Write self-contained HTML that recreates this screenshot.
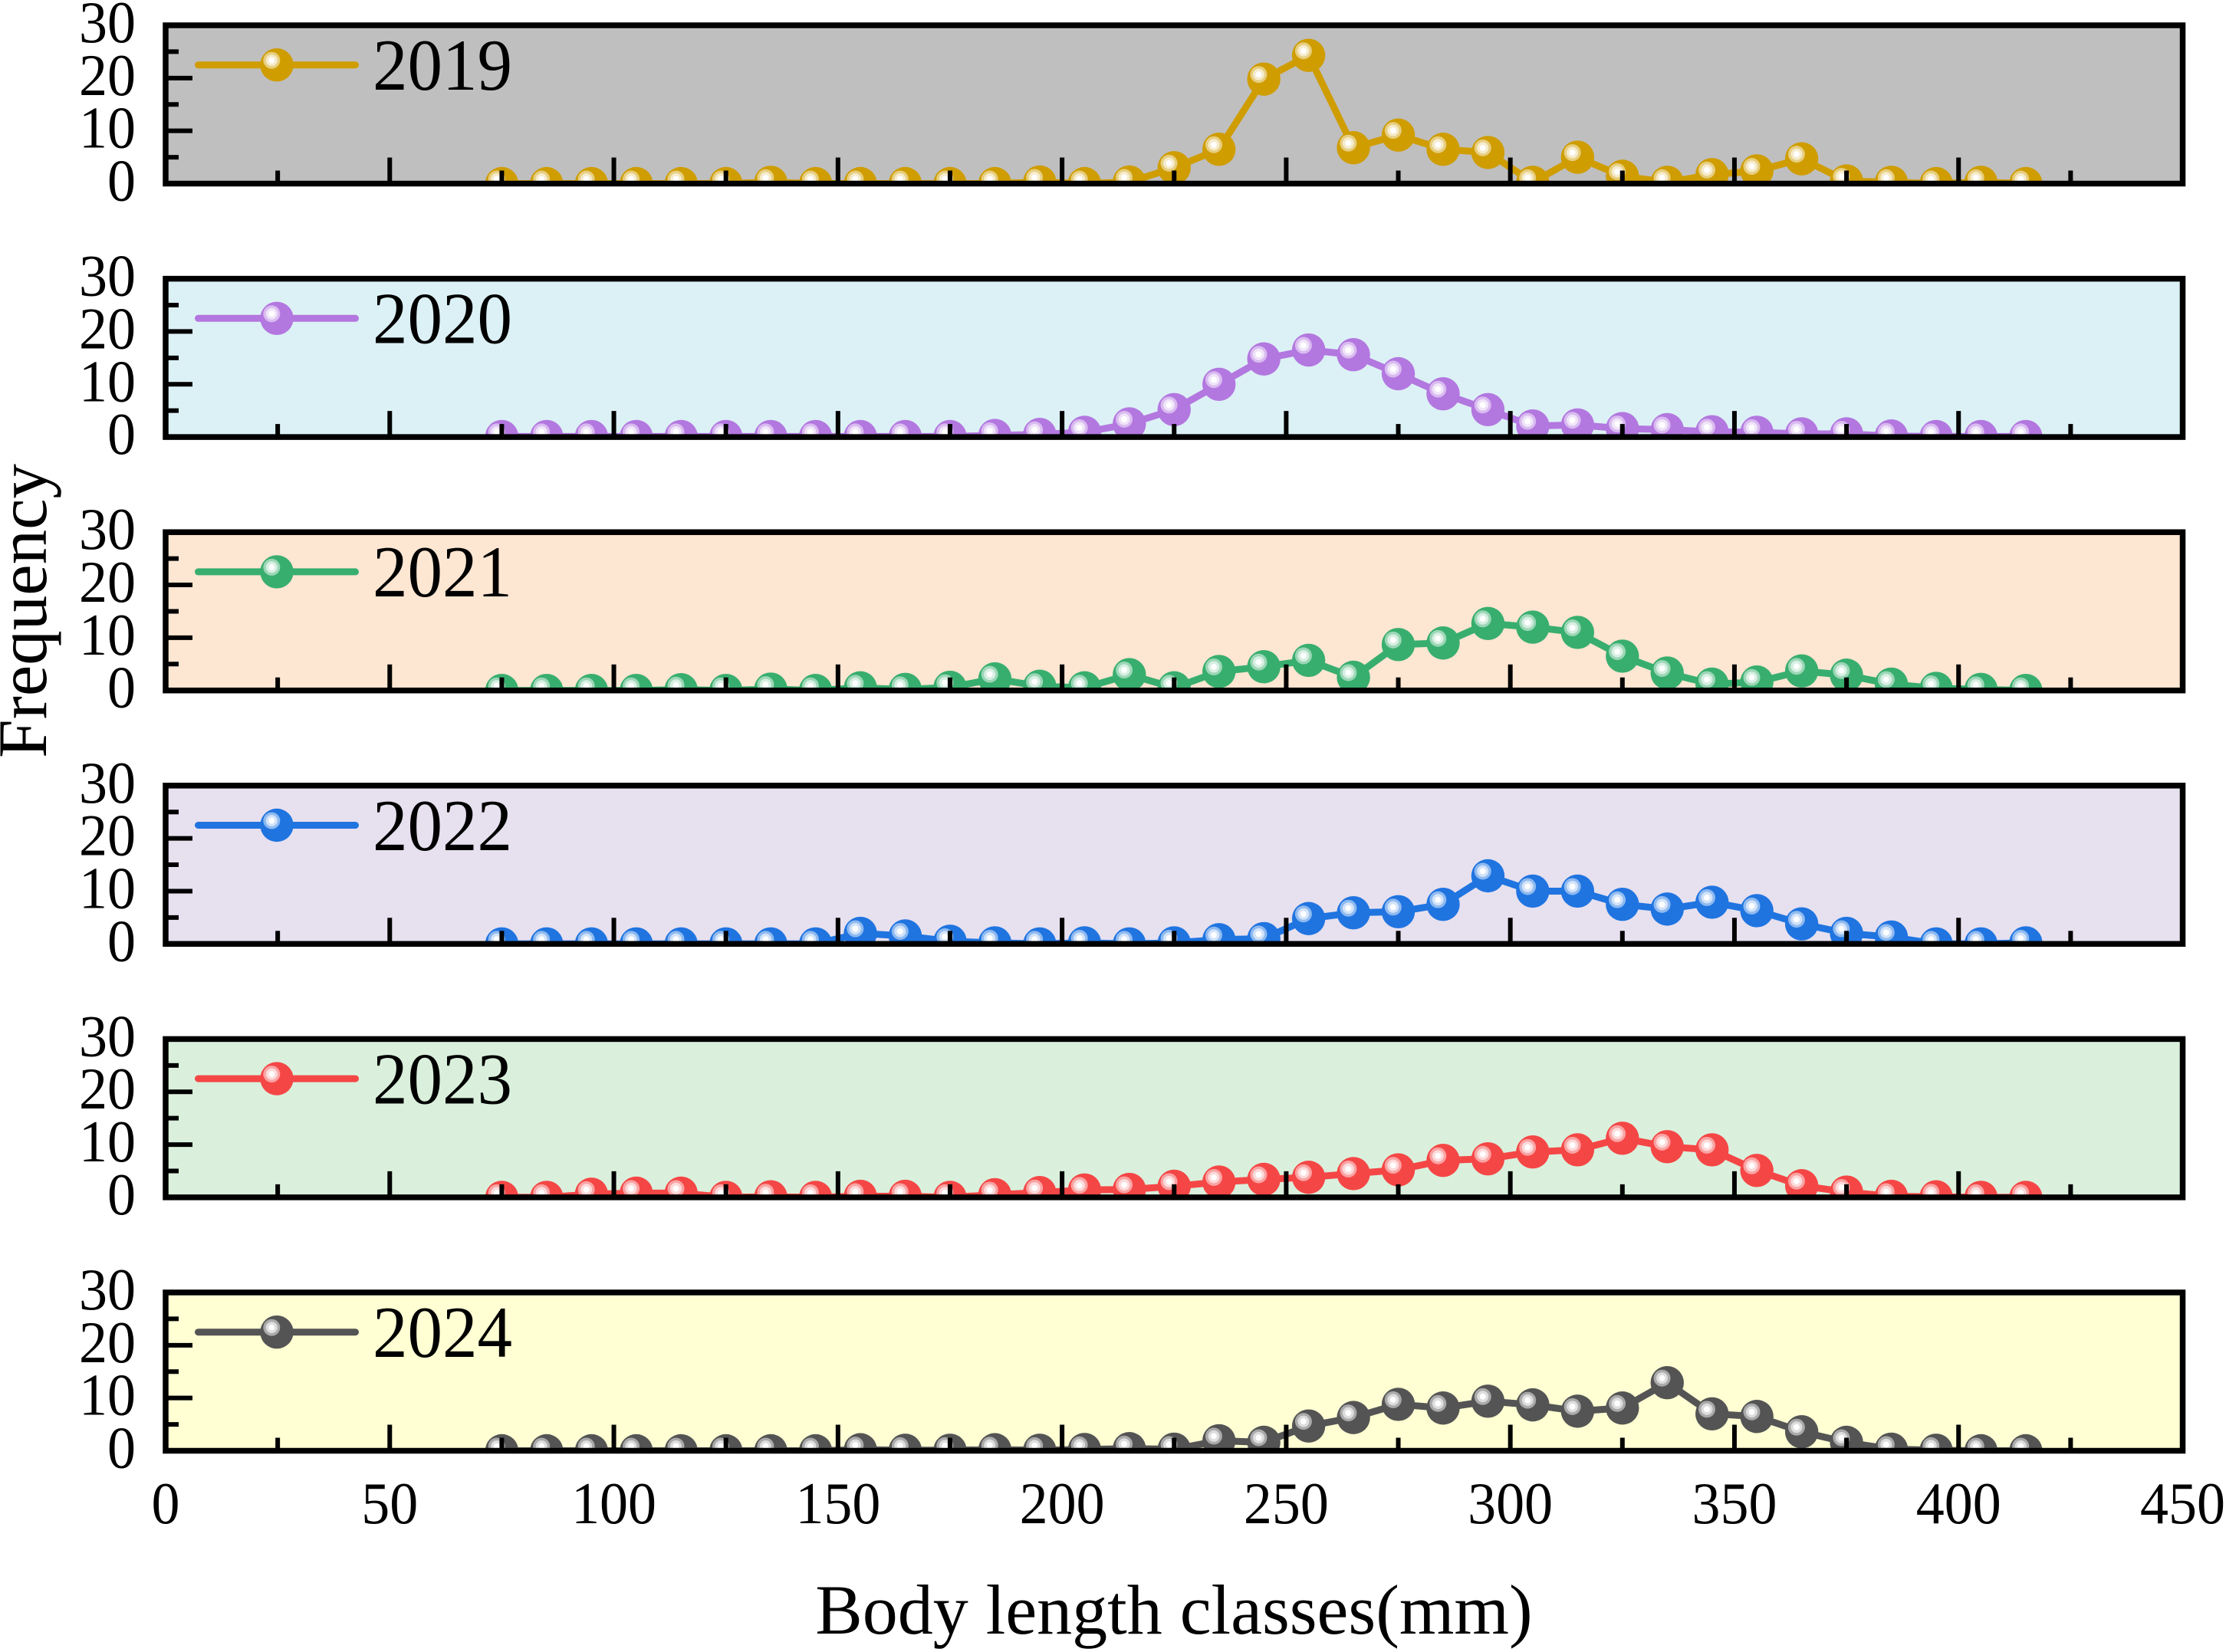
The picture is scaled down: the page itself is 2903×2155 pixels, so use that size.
<!DOCTYPE html>
<html lang="en">
<head>
<meta charset="utf-8">
<title>Body length class frequency by year</title>
<style>
html,body{margin:0;padding:0;background:#fff;width:2903px;height:2155px;overflow:hidden}
svg{display:block}
text{font-family:"Liberation Serif","Times New Roman",serif;fill:#000}
</style>
</head>
<body>
<svg id="chart" xmlns="http://www.w3.org/2000/svg" width="2903" height="2155" viewBox="0 0 2903 2155">
  <rect x="0" y="0" width="2903" height="2155" fill="#ffffff"/>
  <text x="1531" y="2131" font-size="92" text-anchor="middle">Body length classes(mm)</text>
  <text transform="translate(60 797) rotate(-90)" font-size="91" text-anchor="middle">Frequency</text>
</svg>
<script>
const bodyLengthClasses = [75,85,95,105,115,125,135,145,155,165,175,185,195,205,215,225,235,245,255,265,275,285,295,305,315,325,335,345,355,365,375,385,395,405,415];
const panelYears = ['2019','2020','2021','2022','2023','2024'];
const values2019 = [0,0,0,0,0,0,0.25,0,0,0,0,0,0.3,0,0.3,3,6.5,19.8,24.3,6.8,9.2,6.5,5.9,0.25,5,1.4,0.25,1.7,2.4,4.7,0.5,0.25,0,0.25,0];
const values2020 = [0.1,0.1,0.1,0.1,0.1,0.1,0.1,0.1,0.1,0.1,0.1,0.3,0.5,0.9,2.5,5.2,10,14.8,16.5,15.6,12,8.2,5.2,2.1,2.3,1.6,1.4,1,0.9,0.6,0.6,0.2,0.1,0.1,0.1];
const values2021 = [0,0,0,0,0.15,0,0.25,0,0.5,0.2,0.6,2.2,0.8,0.5,3,0.5,3.6,4.5,5.7,2.5,8.7,9,12.7,12,11,6.5,3.3,1.2,1.6,3.7,2.9,1.2,0.4,0.2,0];
const values2022 = [0,0,0,0,0,0,0,0,2,1.5,0.5,0.2,0,0.2,0,0.2,0.8,1,4.8,5.9,6.1,7.5,12.9,10,10,7.5,6.6,7.9,6.3,3.8,2,1.3,0,0,0.2];
const values2023 = [0,0,0.6,0.8,0.8,0,0.1,0,0.2,0.2,0,0.5,0.9,1.4,1.5,2.1,2.9,3.4,3.8,4.5,5.2,7,7.3,8.6,9,11.2,9.6,9,5.1,2.2,1,0.2,0.1,0,0];
const values2024 = [0,0,0,0,0,0,0,0,0.2,0.1,0.1,0.2,0.1,0.25,0.4,0.3,1.9,1.6,4.7,6.3,8.8,8.1,9.4,8.7,7.5,8.1,12.9,7,6.5,3.6,1.6,0.3,0.1,0,0];
const panelSeries = [values2019, values2020, values2021, values2022, values2023, values2024];
const xTickLabels = [0,50,100,150,200,250,300,350,400,450];
const xMinorTicks = [25,75,125,175,225,275,325,375,425];
const yTickLabels = [0,10,20,30];
const yMinorTicks = [5,15,25];
const panelFills = ['#bfbfbf','#dcf1f5','#fde6d2','#e6e0ef','#daf0dc','#ffffd3'];
const seriesColors = ['#cf9d00','#b377e0','#38ae6e','#1f74e0','#f54646','#545454'];

const NS = 'http://www.w3.org/2000/svg';
const svg = document.getElementById('chart');
const plotLeft = 216, plotRight = 2846.5, plotHeight = 206.5, panelStep = 330.6, firstPanelTop = 33;
const markerRadius = 21.7, frameWidth = 7.5, digitStretch = 1.045;

function xScale(v){ return plotLeft + (v / 450) * (plotRight - plotLeft); }
function panelTop(i){ return firstPanelTop + i * panelStep; }
function yScale(i, v){ return panelTop(i) + plotHeight - (v / 30) * plotHeight; }
function make(tag, attrs, parent){
  const el = document.createElementNS(NS, tag);
  for (const k in attrs) el.setAttribute(k, attrs[k]);
  parent.appendChild(el);
  return el;
}
function stretchedAt(x, y){ return 'translate(' + x + ' ' + y + ') scale(1 ' + digitStretch + ')'; }
function drawMarker(parent, cx, cy, color){
  make('circle', {cx: cx, cy: cy, r: markerRadius, fill: color}, parent);
  make('circle', {cx: cx - 6.7, cy: cy - 6, r: 11, fill: '#ffffff', 'fill-opacity': 0.5}, parent);
  make('circle', {cx: cx - 6.7, cy: cy - 6, r: 7.5, fill: '#ffffff', 'fill-opacity': 0.6}, parent);
  make('circle', {cx: cx - 6.7, cy: cy - 6, r: 4, fill: '#ffffff', 'fill-opacity': 0.95}, parent);
}

panelYears.forEach(function(year, i){
  const top = panelTop(i), bottom = top + plotHeight;
  const values = panelSeries[i];
  const color = seriesColors[i];

  const g = make('g', {}, svg);
  
  

  const bg = make('rect', {x: plotLeft, y: top, width: plotRight - plotLeft, height: plotHeight, fill: panelFills[i]}, g);
  
  

  const clip = make('clipPath', {id: 'clip-' + i}, g);
  make('rect', {x: plotLeft, y: top, width: plotRight - plotLeft, height: plotHeight}, clip);

  const series = make('g', {'clip-path': 'url(#clip-' + i + ')'}, g);
  
  

  const points = bodyLengthClasses.map(function(c, k){ return xScale(c).toFixed(2) + ',' + yScale(i, values[k]).toFixed(2); }).join(' ');
  const line = make('polyline', {points: points, fill: 'none', stroke: color, 'stroke-width': 9, 'stroke-linejoin': 'round'}, series);
  
  

  bodyLengthClasses.forEach(function(c, k){
    const m = make('g', {}, series);
    
    
    drawMarker(m, xScale(c), yScale(i, values[k]), color);
  });

  const ticks = make('g', {stroke: '#000000'}, g);
  
  
  xTickLabels.forEach(function(v){
    make('line', {x1: xScale(v), x2: xScale(v), y1: bottom, y2: bottom - 34, 'stroke-width': 6}, ticks);
  });
  xMinorTicks.forEach(function(v){
    make('line', {x1: xScale(v), x2: xScale(v), y1: bottom, y2: bottom - 17, 'stroke-width': 6}, ticks);
  });
  yTickLabels.forEach(function(v){
    make('line', {x1: plotLeft, x2: plotLeft + 35, y1: yScale(i, v), y2: yScale(i, v), 'stroke-width': 6}, ticks);
  });
  yMinorTicks.forEach(function(v){
    make('line', {x1: plotLeft, x2: plotLeft + 17, y1: yScale(i, v), y2: yScale(i, v), 'stroke-width': 6}, ticks);
  });

  const frame = make('rect', {x: plotLeft, y: top, width: plotRight - plotLeft, height: plotHeight, fill: 'none', stroke: '#000000', 'stroke-width': frameWidth}, g);
  
  

  yTickLabels.forEach(function(v){
    const t = make('text', {transform: stretchedAt(177, yScale(i, v) + 22), 'font-size': 74, 'text-anchor': 'end'}, g);
    t.textContent = String(v);
    
    
  });

  const legend = make('g', {}, g);
  
  
  const ly = top + 51.7;
  make('line', {x1: 258.5, x2: 463.5, y1: ly, y2: ly, stroke: color, 'stroke-width': 9, 'stroke-linecap': 'round'}, legend);
  drawMarker(legend, 361, ly, color);
  const lt = make('text', {transform: stretchedAt(486, top + 84), 'font-size': 91}, legend);
  lt.textContent = year;
  
  
});

xTickLabels.forEach(function(v){
  const t = make('text', {transform: stretchedAt(xScale(v), 1987), 'font-size': 74, 'text-anchor': 'middle'}, svg);
  t.textContent = String(v);
  
  
});
</script>
</body>
</html>
